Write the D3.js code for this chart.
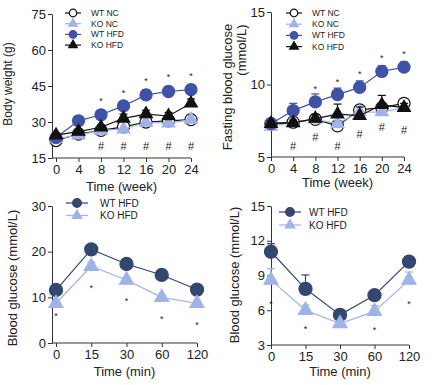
<!DOCTYPE html>
<html>
<head>
<meta charset="utf-8">
<script src="https://cdn.jsdelivr.net/npm/d3@7"></script>
<style>
  body { margin: 0; background: #fff; }
  svg { font-family: "Liberation Sans", Arial, sans-serif; }
  .axis path, .axis line { stroke: #333; stroke-width: 1; }
  .axis text { font-size: 13px; fill: #222; }
</style>
</head>
<body>
<div id="chart"></div>
<script>
// ---- data ----
const weeks = [0, 4, 8, 12, 16, 20, 24];
const minutes = ["0", "15", "30", "60", "120"];

// body weight (g)
const bwWtNc  = [22.3, 25.0, 26.5, 28.0, 30.0, 30.5, 31.0];
const bwKoNc  = [23.0, 24.5, 26.5, 27.0, 29.8, 29.5, 31.0];
const bwWtHfd = [23.5, 30.5, 33.0, 36.7, 41.3, 42.7, 43.5];
const bwKoHfd = [24.5, 26.0, 27.8, 31.5, 33.3, 32.5, 37.8];
const bwWtHfdErr = [0.8, 1.0, 1.2, 1.5, 2.2, 2.0, 2.0];
const bwKoHfdErr = [0.8, 1.0, 1.0, 1.8, 1.6, 1.5, 1.8];
const bwStar = [null, null, 39.6, 42.9, 47.9, 49.6, 50.0];
const bwHash = [null, null, 20.0, 20.0, 20.0, 20.0, 20.0];

// fasting blood glucose (mmol/L)
const fgWtNc  = [7.3, 7.4, 7.6, 7.15, 8.25, 8.4, 8.7];
const fgKoNc  = [7.1, 7.4, 7.6, 7.3, 8.1, 8.1, 8.4];
const fgWtHfd = [7.3, 8.2, 8.8, 9.3, 9.8, 10.9, 11.2];
const fgKoHfd = [7.3, 7.35, 7.65, 7.95, 7.85, 8.6, 8.4];
const fgWtHfdErr = [0.2, 0.5, 0.55, 0.45, 0.45, 0.4, 0.35];
const fgKoHfdErr = [0.2, 0.2, 0.3, 0.7, 0.6, 0.65, 0.3];
const fgStar = [null, null, 9.85, 10.3, 10.85, 11.95, 12.25];
const fgHash = [null, 5.75, 6.4, 5.75, 6.6, 7.05, 6.85];

// GTT blood glucose (mmol/L)
const gttWt = [11.6, 20.5, 17.3, 14.9, 11.7];
const gttKo = [8.7, 16.8, 13.8, 10.0, 8.7];
const gttWtErr = [0.3, 0.3, 0.3, 0.3, 0.3];
const gttKoErr = [0.4, 0.9, 0.4, 0.4, 0.5];
const gttStar = [6.35, 12.5, 9.6, 5.7, 4.4];

// ITT blood glucose (mmol/L)
const ittWt = [11.05, 7.85, 5.6, 7.3, 10.2];
const ittKo = [8.6, 6.0, 4.85, 5.9, 8.6];
const ittWtErr = [0.7, 1.2, 0.2, 0.2, 0.35];
const ittKoErr = [1.0, 0.45, 0.2, 0.5, 0.7];
const ittStar = [6.7, 4.55, null, 4.45, 6.7];

const blue = "#3f52a6", light = "#9fb3e8", dark = "#34476e", black = "#111";

const svg = d3.select("#chart").append("svg")
  .attr("width", 442).attr("height", 385);

function panel(p) {
  const g = svg.append("g");
  const x = p.cat
    ? d3.scalePoint().domain(p.xs).range(p.xr)
    : d3.scaleLinear().domain([p.xs[0], p.xs[p.xs.length - 1]]).range(p.xr);
  const y = d3.scaleLinear().domain(p.yd).range(p.yr);

  // axes
  g.append("g").attr("class", "axis")
    .attr("transform", `translate(0,${p.yr[0]})`)
    .call(d3.axisBottom(x).tickValues(p.xs).tickSize(4).tickPadding(3).tickSizeOuter(0))
    .call(a => a.select(".domain").attr("d", `M${p.ax},0H${p.xr[1]}`));
  g.append("g").attr("class", "axis")
    .attr("transform", `translate(${p.ax},0)`)
    .call(d3.axisLeft(y).tickValues(p.yt).tickSize(4).tickPadding(2).tickSizeOuter(0));

  // series
  p.series.forEach(s => {
    const pts = p.xs.map((v, i) => ({ x: x(v), v: s.v[i], e: s.err ? s.err[i] : 0 }));
    g.append("path").datum(pts)
      .attr("fill", "none").attr("stroke", s.line).attr("stroke-width", 1.2)
      .attr("d", d3.line().x(d => d.x).y(d => y(d.v)));
    const eb = g.append("g").attr("stroke", s.line).attr("stroke-width", 1.2);
    pts.filter(d => d.e > 0).forEach(d => {
      eb.append("line").attr("x1", d.x).attr("x2", d.x)
        .attr("y1", y(d.v)).attr("y2", y(d.v + d.e));
      eb.append("line").attr("x1", d.x - 4).attr("x2", d.x + 4)
        .attr("y1", y(d.v + d.e)).attr("y2", y(d.v + d.e));
    });
    g.selectAll(null).data(pts).enter().append("path")
      .attr("transform", d => `translate(${d.x},${y(d.v)})`)
      .attr("d", d3.symbol().type(s.shape).size(s.shape === d3.symbolCircle ? p.ms : p.ts))
      .attr("fill", s.fill).attr("stroke", s.stroke).attr("stroke-width", 1.2);
  });

  // significance marks
  (p.marks || []).forEach(m => {
    g.selectAll(null).data(p.xs.map((v, i) => ({ x: x(v), v: m.v[i] })).filter(d => d.v != null))
      .enter().append("text")
      .attr("x", d => d.x).attr("y", d => y(d.v))
      .attr("dy", m.dy).attr("text-anchor", "middle")
      .style("font-size", m.size + "px").attr("fill", "#222")
      .text(m.t);
  });

  // legend
  p.series.forEach((s, i) => {
    const ly = p.leg.y + i * p.leg.dy;
    g.append("line").attr("x1", p.leg.x - p.leg.w).attr("x2", p.leg.x + p.leg.w)
      .attr("y1", ly).attr("y2", ly).attr("stroke", s.line).attr("stroke-width", 1.2);
    g.append("path").attr("transform", `translate(${p.leg.x},${ly})`)
      .attr("d", d3.symbol().type(s.shape).size(s.shape === d3.symbolCircle ? p.leg.ms : p.leg.ts))
      .attr("fill", s.fill).attr("stroke", s.stroke).attr("stroke-width", 1.2);
    g.append("text").attr("x", p.leg.tx).attr("y", ly).attr("dy", "0.35em")
      .style("font-size", p.leg.fs + "px").attr("fill", "#222").text(s.name);
  });

  // titles
  g.append("text").attr("x", (p.ax + p.xr[1]) / 2).attr("y", p.xt)
    .attr("text-anchor", "middle").style("font-size", "13px").attr("fill", "#222")
    .text(p.xlabel);
  p.ylabel.forEach(l => {
    g.append("text").attr("transform", `translate(${l.x},${l.y}) rotate(-90)`)
      .attr("text-anchor", "middle").attr("dy", "0.35em")
      .style("font-size", l.fs + "px").attr("fill", "#222").text(l.t);
  });
}

const circ = d3.symbolCircle, tri = d3.symbolTriangle;

panel({
  xs: weeks, xr: [56, 191], ax: 52, yd: [15, 75], yr: [158, 14], yt: [15, 30, 45, 60, 75],
  ms: 115, ts: 70, xt: 191, xlabel: "Time (week)",
  ylabel: [{ t: "Body weight (g)", x: 8, y: 84, fs: 12 }],
  series: [
    { name: "WT NC", v: bwWtNc, shape: circ, fill: "#fff", stroke: black, line: black },
    { name: "KO NC", v: bwKoNc, shape: tri, fill: light, stroke: light, line: light },
    { name: "WT HFD", v: bwWtHfd, err: bwWtHfdErr, shape: circ, fill: blue, stroke: blue, line: blue },
    { name: "KO HFD", v: bwKoHfd, err: bwKoHfdErr, shape: tri, fill: black, stroke: black, line: black }
  ],
  marks: [{ v: bwStar, t: "*", size: 9, dy: "0.55em" }, { v: bwHash, t: "#", size: 11, dy: "0.35em" }],
  leg: { x: 73, w: 8, tx: 91, y: 13, dy: 10.7, ms: 45, ts: 32, fs: 8.5 }
});

panel({
  xs: weeks, xr: [271, 404], ax: 271, yd: [5, 15], yr: [157, 12], yt: [5, 10, 15],
  ms: 115, ts: 70, xt: 187, xlabel: "Time (week)",
  ylabel: [{ t: "Fasting blood glucose", x: 227, y: 87, fs: 13 },
           { t: "(mmol/L)", x: 241, y: 50, fs: 13 }],
  series: [
    { name: "WT NC", v: fgWtNc, shape: circ, fill: "#fff", stroke: black, line: black },
    { name: "KO NC", v: fgKoNc, shape: tri, fill: light, stroke: light, line: light },
    { name: "WT HFD", v: fgWtHfd, err: fgWtHfdErr, shape: circ, fill: blue, stroke: blue, line: blue },
    { name: "KO HFD", v: fgKoHfd, err: fgKoHfdErr, shape: tri, fill: black, stroke: black, line: black }
  ],
  marks: [{ v: fgStar, t: "*", size: 9, dy: "0.55em" }, { v: fgHash, t: "#", size: 11, dy: "0.35em" }],
  leg: { x: 294, w: 8, tx: 312, y: 13, dy: 11.2, ms: 45, ts: 32, fs: 8.5 }
});

panel({
  xs: minutes, cat: true, xr: [56, 197], ax: 52, yd: [0, 30], yr: [343, 206], yt: [0, 10, 20, 30],
  ms: 135, ts: 85, xt: 376, xlabel: "Time (min)",
  ylabel: [{ t: "Blood glucose (mmol/L)", x: 12, y: 278, fs: 13 }],
  series: [
    { name: "WT HFD", v: gttWt, err: gttWtErr, shape: circ, fill: dark, stroke: dark, line: dark },
    { name: "KO HFD", v: gttKo, err: gttKoErr, shape: tri, fill: light, stroke: light, line: light }
  ],
  marks: [{ v: gttStar, t: "*", size: 9, dy: "0.55em" }],
  leg: { x: 77, w: 11, tx: 100, y: 203, dy: 12.5, ms: 60, ts: 40, fs: 10 }
});

panel({
  xs: minutes, cat: true, xr: [271, 409], ax: 271, yd: [3, 15], yr: [345, 206], yt: [3, 6, 9, 12, 15],
  ms: 135, ts: 85, xt: 376, xlabel: "Time (min)",
  ylabel: [{ t: "Blood glucose (mmol/L)", x: 234, y: 275, fs: 13 }],
  series: [
    { name: "WT HFD", v: ittWt, err: ittWtErr, shape: circ, fill: dark, stroke: dark, line: dark },
    { name: "KO HFD", v: ittKo, err: ittKoErr, shape: tri, fill: light, stroke: light, line: light }
  ],
  marks: [{ v: ittStar, t: "*", size: 9, dy: "0.55em" }],
  leg: { x: 290, w: 11, tx: 309, y: 212, dy: 13, ms: 60, ts: 40, fs: 10 }
});
</script>
</body>
</html>
